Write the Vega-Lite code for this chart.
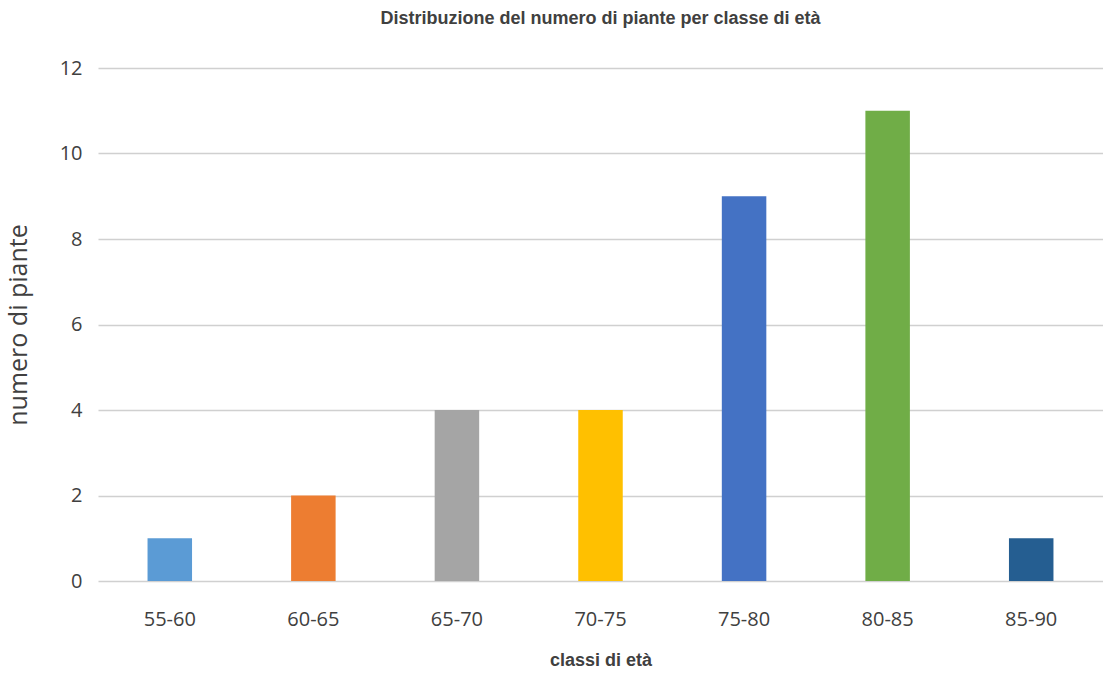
{
  "$schema": "https://vega.github.io/schema/vega-lite/v6.json",
  "autosize": "none",
  "width": 1005,
  "height": 513,
  "padding": {"left": 98, "top": 68, "right": 0, "bottom": 99},
  "background": "white",
  "title": {
    "text": "Distribuzione del numero di piante per classe di età",
    "font": "Liberation Sans Narrow, Liberation Sans, Arial",
    "fontSize": 18,
    "fontWeight": "bold",
    "color": "#404040",
    "anchor": "middle",
    "frame": "group",
    "baseline": "middle",
    "offset": 21
  },
  "data": {
    "values": [
      {"classe": "55-60", "piante": 1},
      {"classe": "60-65", "piante": 2},
      {"classe": "65-70", "piante": 4},
      {"classe": "70-75", "piante": 4},
      {"classe": "75-80", "piante": 9},
      {"classe": "80-85", "piante": 11},
      {"classe": "85-90", "piante": 1}
    ]
  },
  "mark": {"type": "bar"},
  "encoding": {
    "x": {
      "field": "classe",
      "type": "nominal",
      "sort": null,
      "scale": {"paddingInner": 0.69, "paddingOuter": 0.345},
      "axis": {
        "title": "classi di età",
        "titleFont": "Liberation Sans Narrow, Liberation Sans, Arial",
        "titleFontSize": 18,
        "titleFontWeight": "bold",
        "titleColor": "#404040",
        "titlePadding": 22,
        "labelFont": "Open Sans",
        "labelFontSize": 20,
        "labelColor": "#404040",
        "labelAngle": 0,
        "labelPadding": 28,
        "ticks": false,
        "domain": false
      }
    },
    "y": {
      "field": "piante",
      "type": "quantitative",
      "scale": {"domain": [0, 12]},
      "axis": {
        "title": "numero di piante",
        "titleFont": "Open Sans",
        "titleFontSize": 25,
        "titleFontWeight": "normal",
        "titleColor": "#404040",
        "titlePadding": 28,
        "labelFont": "Open Sans",
        "labelFontSize": 20,
        "labelColor": "#404040",
        "labelPadding": 16,
        "values": [0, 2, 4, 6, 8, 10, 12],
        "ticks": false,
        "domain": false,
        "grid": true,
        "gridColor": "#d0d0d0",
        "gridWidth": 1.3
      }
    },
    "color": {
      "field": "classe",
      "type": "nominal",
      "sort": null,
      "scale": {
        "domain": ["55-60", "60-65", "65-70", "70-75", "75-80", "80-85", "85-90"],
        "range": ["#5B9BD5", "#ED7D31", "#A5A5A5", "#FFC000", "#4472C4", "#70AD47", "#255E91"]
      },
      "legend": null
    }
  },
  "config": {"view": {"stroke": null}}
}
